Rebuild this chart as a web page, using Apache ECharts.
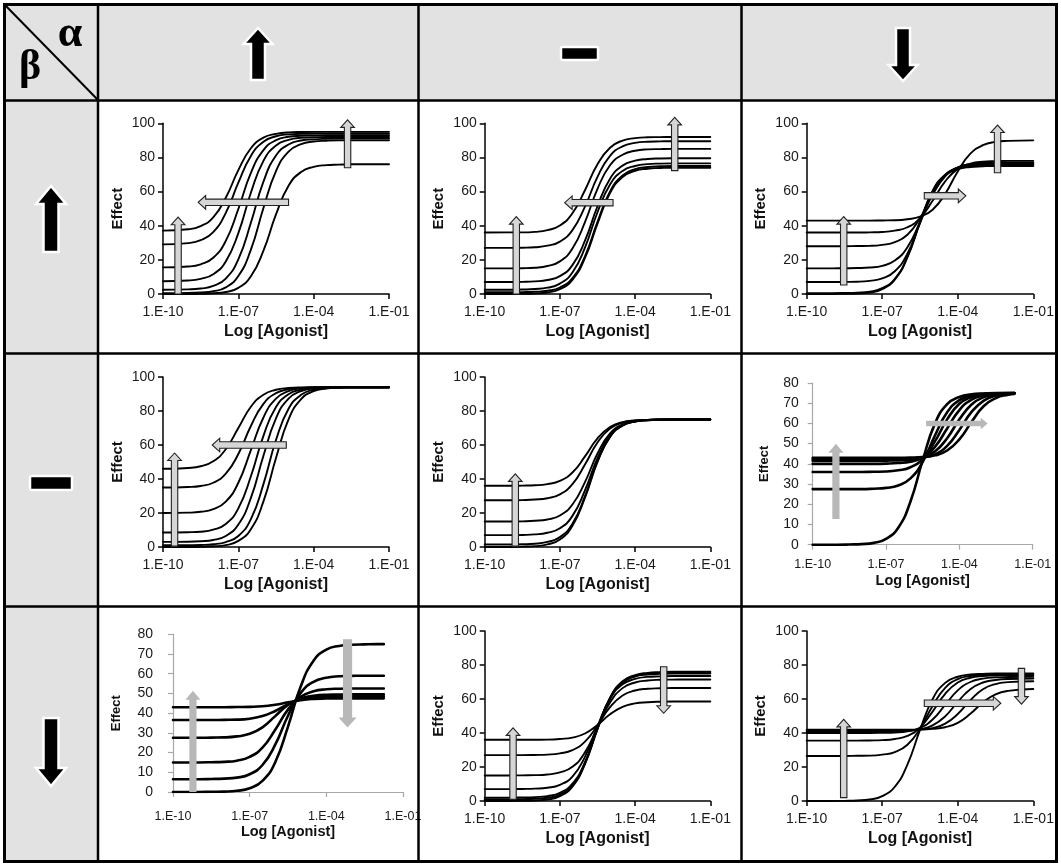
<!DOCTYPE html>
<html><head><meta charset="utf-8">
<script src="https://cdn.jsdelivr.net/npm/echarts@6/dist/echarts.min.js"></script>
<style>html,body{margin:0;padding:0;background:#fff}#c{width:1061px;height:865px}</style>
</head><body><div id="c"></div>
<script>
// ---- DATA (log10 agonist concentration vs effect) ----
const logAgonist = [-10,-9,-8.5,-8,-7.5,-7,-6.5,-6,-5.5,-5,-4.5,-4,-3.5,-3,-2.5,-2,-1];
const logAgonistShort = [-10,-9,-8.5,-8,-7.5,-7,-6.5,-6,-5.5,-5,-4.5,-4,-3.5,-3,-2.5,-2,-1.75];
const xTickValues = [-10,-7,-4,-1];
const xAxisTitle = 'Log [Agonist]';
const yAxisTitle = 'Effect';
const alphaLabel = 'α';
const betaLabel = 'β';

// row 1 (beta up)
const p11 = [
 [37.1,37.9,39.8,44.9,56.4,72.6,85.4,91.6,93.8,94.7,94.9,95,95,95,95,95,95],
 [29.1,29.8,31.5,36.3,47.5,65.2,80.9,89.2,92.4,93.5,93.8,94,94,94,94,94,94],
 [15.6,16.1,17.4,21.2,31.1,49.8,70.9,84.3,90.1,92.1,92.7,92.9,93,93,93,93,93],
 [7.5,7.9,8.9,11.6,19.1,35.7,59.3,78.0,87.0,90.3,91.5,91.8,92,92,92,92,92],
 [2.5,2.7,3.2,4.7,9.0,20.3,41.7,65.8,81.1,87.6,89.9,90.6,90.9,91,91,91,91],
 [0.5,0.6,0.9,1.6,3.9,10.5,26.0,50.4,72.0,83.4,87.8,89.3,89.8,90,90,90,90],
 [0,0,0.1,0.4,1.2,3.6,10.4,25.4,46.6,63.4,71.5,74.5,75.5,75.8,76,76,76]
];
const p12 = [
 [36,36.1,36.1,36.4,37.4,40.1,47.3,60.8,76.0,85.7,89.9,91.3,91.8,91.9,92,92,92],
 [27,27,27.1,27.4,28.3,30.7,37.4,51.2,68.6,80.9,86.5,88.5,89.2,89.4,89.5,89.5,89.5],
 [15,15,15.1,15.4,16.4,19.1,26.6,42.1,61.6,75.4,81.6,83.9,84.7,84.9,85,85,85],
 [7,7,7.1,7.4,8.2,10.5,16.9,31.2,51.4,67.5,75.2,78.1,79.1,79.4,79.5,79.5,79.5],
 [2.5,2.5,2.6,2.9,3.7,6.1,12.6,27.2,47.9,64.2,72.1,75.0,76.1,76.4,76.5,76.5,76.5],
 [1,1,1.1,1.3,1.9,3.8,9.3,22.1,42.2,60.1,69.5,73.2,74.4,74.8,75,75,75],
 [0,0,0.1,0.3,0.9,2.8,8.3,21.1,41.2,59.1,68.5,72.2,73.4,73.8,74,74,74]
];
const p13 = [
 [43,43,43,43,43,43.1,43.2,43.8,45.3,49.4,58.7,71.8,82.2,87.2,89.1,89.7,90],
 [36,36,36,36,36.1,36.3,37.1,39.1,44.4,54.6,66.0,73.3,76.4,77.5,77.8,78,78],
 [28,28,28,28.1,28.2,28.8,30.4,34.7,44.4,58.0,68.9,74.1,76.0,76.7,76.9,77,77],
 [15,15,15.1,15.2,15.5,16.5,19.6,27.4,42.2,59.0,69.6,74.2,75.8,76.3,76.4,76.5,76.5],
 [7,7,7.1,7.2,7.7,9.1,13.3,23.6,41.5,59.4,69.7,73.9,75.3,75.8,75.9,76,76],
 [0.5,0.5,0.6,0.8,1.4,3.4,8.9,21.9,42.3,60.4,69.9,73.6,74.9,75.3,75.5,75.5,75.5],
 [0,0,0.1,0.3,0.9,2.9,8.4,21.4,41.8,59.9,69.5,73.1,74.4,74.8,75,75,75]
];
// row 2 (beta neutral)
const p21 = [
 [46,46.5,47.5,50.4,57.5,70,82.5,89.6,92.5,93.5,93.9,94,94,94,94,94,94],
 [35,35.3,35.9,37.8,43.1,54.7,71.2,84.2,90.5,92.8,93.6,93.9,94,94,94,94,94],
 [20,20.2,20.7,22.3,26.7,37.8,57,76.2,87.3,91.7,93.3,93.8,93.9,94,94,94,94],
 [8.5,8.7,9.0,10.2,13.5,22.7,41.6,65.4,82.3,89.9,92.6,93.6,93.8,94,94,94,94],
 [3,3.1,3.4,4.1,6.5,13.2,28.9,53.7,75.7,87.3,91.7,93.3,93.7,94,94,94,94],
 [1,1.1,1.2,1.6,2.9,6.5,16.4,37.0,62.9,81.3,89.5,92.5,93.5,93.8,94,94,94],
 [0,0,0.1,0.4,1.1,3.6,10.5,26.8,52.4,75.1,87.0,91.7,93.2,93.7,94,94,94]
];
const p22 = [
 [36,36,36.1,36.3,37.0,38.9,43.8,53.3,63.9,70.6,73.5,74.5,74.8,75,75,75,75],
 [27.5,27.5,27.6,27.9,28.7,31.0,37.0,48.5,61.5,69.7,73.2,74.4,74.8,75,75,75,75],
 [15,15,15.1,15.4,16.2,18.5,25.0,38.2,55.0,66.8,72.1,74.0,74.7,74.9,75,75,75],
 [7,7,7.1,7.4,8.4,11.0,18.3,33.3,52.3,65.7,71.7,73.9,74.7,74.9,75,75,75],
 [1.5,1.5,1.6,1.9,3.0,5.8,13.7,29.9,50.5,64.9,71.5,73.8,74.6,74.9,75,75,75],
 [0,0,0.2,0.5,1.5,4.4,12.5,29.0,50.0,64.7,71.4,73.8,74.6,74.9,75,75,75]
];
const p23 = [
 [0,0,0.1,0.3,0.9,2.9,8.4,21.4,41.8,59.9,69.5,73.1,74.4,74.8,75,75,75],
 [27.5,27.5,27.5,27.5,27.7,28.1,29.3,32.8,41.0,54.0,65.5,71.5,73.8,74.6,74.9,75,75],
 [36,36,36,36,36.1,36.2,36.8,38.3,42.5,51.1,62.0,69.7,73.1,74.4,74.8,74.9,75],
 [40,40,40,40,40,40.1,40.4,41.1,43.2,48.4,57.5,66.6,71.8,73.9,74.7,74.9,74.9],
 [41.5,41.5,41.5,41.5,41.5,41.6,41.7,42.0,43.1,46.1,52.7,62.0,69.4,73.0,74.3,74.8,74.9],
 [42.3,42.3,42.3,42.3,42.3,42.3,42.4,42.6,43.1,44.7,48.9,56.8,65.7,71.3,73.8,74.6,74.8],
 [43,43,43,43,43,43,43,43.1,43.4,44.2,46.6,52.1,60.8,68.6,72.6,74.2,74.6]
];
// row 3 (beta down)
const p31 = [
 [43,43,43,43,43.1,43.2,43.5,44.3,45.5,46.6,47.2,47.4,47.5,47.5,47.5,47.5,47.5],
 [36.5,36.5,36.5,36.6,36.7,37.2,38.5,41.1,44.5,46.9,47.9,48.3,48.4,48.5,48.5,48.5,48.5],
 [27.5,27.5,27.6,27.7,28.2,29.5,32.8,38.5,44.2,47.5,48.8,49.3,49.4,49.5,49.5,49.5,49.5],
 [15,15,15.1,15.3,15.9,17.8,22.5,31.6,41.8,48.3,51.1,52.1,52.4,52.5,52.5,52.5,52.5],
 [6.5,6.5,6.6,6.8,7.3,9.0,13.7,24.0,38.7,50.3,55.9,58.0,58.7,58.9,59,59,59],
 [0,0,0.1,0.2,0.6,1.9,5.6,15.1,33.2,53.6,66.6,72.2,74.1,74.7,74.9,75,75]
];
const p32 = [
 [36,36,36,36,36.1,36.5,37.3,39.7,44.7,51.0,55.4,57.4,58.1,58.4,58.5,58.5,58.5],
 [27,27,27,27.1,27.3,28.0,29.9,34.9,44.5,55.2,62.1,65.0,66.0,66.3,66.5,66.5,66.5],
 [15,15,15.1,15.2,15.6,16.8,20.1,28.6,43.3,57.9,66.4,69.7,70.9,71.3,71.4,71.5,71.5],
 [7,7,7.1,7.3,7.8,9.5,14.4,26.0,44.0,60.1,68.6,71.8,73.0,73.3,73.5,73.5,73.5],
 [2,2,2.1,2.3,2.9,4.8,10.2,22.8,42.7,60.3,69.6,73.2,74.4,74.8,75,75,75],
 [1,1,1.1,1.3,1.9,3.8,9.3,22.2,42.5,60.5,70.0,73.6,74.9,75.3,75.5,75.5,75.5],
 [0,0,0.1,0.3,0.9,2.9,8.5,21.7,42.3,60.7,70.4,74.1,75.4,75.8,76,76,76]
];
const p33 = [
 [0,0,0.1,0.3,0.9,2.9,8.4,21.4,41.8,59.9,69.5,73.1,74.4,74.8,75,75,75],
 [26.5,26.5,26.5,26.6,26.7,27.3,28.8,33.1,42.5,55.9,66.5,71.7,73.5,74.2,74.4,74.5,74.5],
 [35.5,35.5,35.5,35.5,35.6,35.8,36.5,38.3,43.2,52.6,63.0,69.7,72.5,73.5,73.8,74,74],
 [40,40,40,40,40,40.1,40.3,41.0,43.0,47.9,56.5,65.1,70.0,72.0,72.7,72.9,73],
 [41,41,41,41,41,41,41.1,41.4,42.2,44.5,49.8,58.3,65.8,69.7,71.2,71.8,72],
 [41.5,41.5,41.5,41.5,41.5,41.5,41.5,41.6,42.0,42.9,45.5,51.2,59.3,65.7,68.8,69.9,70.4],
 [42,42,42,42,42,42,42,42,42.1,42.5,43.4,46.0,51.3,58.0,62.7,64.8,65.9]
];

// annotation arrows in data coordinates: [fromX, fromY, toX, toY]
const arrows11 = [[-9.4,0,-9.4,45],[-5.0,53.7,-8.6,53.7],[-2.65,74,-2.65,102]];
const arrows12 = [[-8.74,0,-8.74,45.3],[-4.88,53.5,-6.81,53.5],[-2.42,72.3,-2.42,103.5]];
const arrows13 = [[-8.53,5.3,-8.53,45.3],[-5.33,57.5,-3.68,57.5],[-2.42,71,-2.42,99]];
const arrows21 = [[-9.54,0.5,-9.54,55.3],[-5.09,60,-8.04,60]];
const arrows22 = [[-8.78,0.5,-8.78,43]];
const arrows23 = [[-9.05,12.7,-9.05,50],[-5.36,60,-2.84,60]];
const arrows31 = [[-9.22,0,-9.22,51.3],[-3.17,77.5,-3.17,32.7]];
const arrows32 = [[-8.87,1,-8.87,43],[-2.86,79,-2.86,51.6]];
const arrows33 = [[-8.53,2,-8.53,48],[-5.33,57.5,-2.29,57.5],[-1.47,78,-1.47,57]];

// ---- LAYOUT ----
const STD = {axis:'#000', font:'"Liberation Sans", Arial, sans-serif', lw:1.9};
const XL  = {axis:'#a8a8a8', font:'"Liberation Sans Narrow", "Liberation Sans", Arial, sans-serif', lw:2.6};
const panels = [
 {rect:[163,123.3,226,170.7], ymax:100, st:'std', x:logAgonist, c:p11, a:arrows11},
 {rect:[484.7,123.3,225.6,170.7], ymax:100, st:'std', x:logAgonist, c:p12, a:arrows12},
 {rect:[806.7,123.3,226.6,170.7], ymax:100, st:'std', x:logAgonist, c:p13, a:arrows13},
 {rect:[163,377,226,170], ymax:100, st:'std', x:logAgonist, c:p21, a:arrows21},
 {rect:[484.7,377,225.6,170], ymax:100, st:'std', x:logAgonist, c:p22, a:arrows22},
 {rect:[812.7,383,220,161.7], ymax:80, st:'xl', x:logAgonistShort, c:p23, a:arrows23,
   xm:13, ym:14, ng:29, yng:42},
 {rect:[173,634.3,230,157.7], ymax:80, st:'xl', x:logAgonistShort, c:p31, a:arrows31,
   xm:18, ym:20, ng:32, yng:50},
 {rect:[484.7,631,225.6,170], ymax:100, st:'std', x:logAgonist, c:p32, a:arrows32},
 {rect:[806.7,631,226.6,170], ymax:100, st:'std', x:logAgonist, c:p33, a:arrows33}
];

const fmtX = v => '1.E' + (v < 0 ? '-' : '+') + String(Math.abs(Math.round(v))).padStart(2,'0');

const grids=[], xAxes=[], yAxes=[], series=[];
panels.forEach((p,i)=>{
  const s = p.st==='std' ? STD : XL;
  const std = p.st==='std';
  grids.push({left:p.rect[0], top:p.rect[1], width:p.rect[2], height:p.rect[3], containLabel:false});
  xAxes.push({gridIndex:i, type:'value', min:-10, max:-1,
    axisLine:{show:true, lineStyle:{color:s.axis, width: std?1.5:1.2}},
    axisTick:{show:true, length:5, customValues:xTickValues, lineStyle:{color:s.axis, width: std?1.5:1.2}},
    axisLabel:{customValues:xTickValues, formatter:fmtX, fontSize: std?14:12.5, color:'#1a1a1a',
      fontFamily:s.font, margin: std?11:p.xm, showMinLabel:true, showMaxLabel:true},
    splitLine:{show:false},
    name:xAxisTitle, nameLocation:'middle', nameGap: std?30:p.ng,
    nameTextStyle:{fontWeight:'bold', fontSize: std?16:14.5, fontFamily:'"Liberation Sans", Arial, sans-serif', color:'#111'}
  });
  yAxes.push({gridIndex:i, type:'value', min:0, max:p.ymax, interval: std?20:10,
    axisLine:{show:true, lineStyle:{color:s.axis, width: std?1.5:1.2}},
    axisTick:{show:true, length:5, lineStyle:{color:s.axis, width: std?1.5:1.2}},
    axisLabel:{fontSize: 14, color:'#1a1a1a', fontFamily:'"Liberation Sans", Arial, sans-serif', margin: std?8:p.ym},
    splitLine:{show:false},
    name:yAxisTitle, nameLocation:'middle', nameGap: std?38:p.yng,
    nameTextStyle:{fontWeight:'bold', fontSize: std?15:13, fontFamily:'"Liberation Sans", Arial, sans-serif', color:'#111'}
  });
  p.c.forEach(ys=>{
    series.push({type:'line', xAxisIndex:i, yAxisIndex:i, smooth:0.5,
      symbol:'none', silent:true, animation:false,
      lineStyle:{color:'#000', width:s.lw, join:'round', cap:'round'},
      data: p.x.map((x,k)=>[x, ys[k]])});
  });
});

const chart = echarts.init(document.getElementById('c'), null, {renderer:'canvas'});
chart.setOption({backgroundColor:'#fff', animation:false, grid:grids, xAxis:xAxes, yAxis:yAxes, series:series});

// ---- table frame, headers and annotation arrows ----
function arrowPts(p0, p1, w, hw, hl){
  const dx=p1[0]-p0[0], dy=p1[1]-p0[1], L=Math.hypot(dx,dy);
  const ux=dx/L, uy=dy/L, nx=-uy, ny=ux;
  const nk=[p1[0]-ux*hl, p1[1]-uy*hl];
  return [[p0[0]+nx*w,p0[1]+ny*w],[nk[0]+nx*w,nk[1]+ny*w],[nk[0]+nx*hw,nk[1]+ny*hw],[p1[0],p1[1]],
          [nk[0]-nx*hw,nk[1]-ny*hw],[nk[0]-nx*w,nk[1]-ny*w],[p0[0]-nx*w,p0[1]-ny*w]];
}
const G = [];
const GRAY = '#e2e2e2';
G.push({type:'rect', z:0, shape:{x:5,y:5,width:1052,height:96}, style:{fill:GRAY}});
G.push({type:'rect', z:0, shape:{x:5,y:100,width:93,height:762}, style:{fill:GRAY}});
// header symbols
const hdr = {fill:'#000', stroke:'#fff', lineWidth:2.5};
G.push({type:'polygon', z:40, shape:{points:arrowPts([258,80],[258,28],7,14.5,16)}, style:hdr});
G.push({type:'rect', z:40, shape:{x:561,y:47,width:37,height:13,r:1.5}, style:hdr});
G.push({type:'polygon', z:40, shape:{points:arrowPts([903,28],[903,81],7,14.5,16)}, style:hdr});
G.push({type:'polygon', z:40, shape:{points:arrowPts([51,252],[51,186],7.5,15,18)}, style:hdr});
G.push({type:'rect', z:40, shape:{x:30,y:476,width:42,height:14,r:1.5}, style:hdr});
G.push({type:'polygon', z:40, shape:{points:arrowPts([51,718],[51,786],7.5,15,18)}, style:hdr});
// corner
G.push({type:'line', z:50, shape:{x1:5,y1:5,x2:98,y2:100}, style:{stroke:'#000', lineWidth:2}});
G.push({type:'text', z:50, style:{text:alphaLabel, x:70, y:35, font:'bold 44px "Liberation Serif", "DejaVu Serif", serif',
  align:'center', verticalAlign:'middle', textAlign:'center', textVerticalAlign:'middle', fill:'#000'}});
G.push({type:'text', z:50, style:{text:betaLabel, x:30, y:68, font:'bold 42px "Liberation Serif", "DejaVu Serif", serif',
  align:'center', verticalAlign:'middle', textAlign:'center', textVerticalAlign:'middle', fill:'#000'}});
// borders
const BL = {stroke:'#000', lineWidth:2.5};
[98,418.5,741.5].forEach(x=>G.push({type:'line', z:50, shape:{x1:x,y1:4.5,x2:x,y2:861.5}, style:BL}));
[100.5,353.5,606.5].forEach(y=>G.push({type:'line', z:50, shape:{x1:4.5,y1:y,x2:1056.5,y2:y}, style:BL}));
G.push({type:'rect', z:50, shape:{x:4.5,y:4.5,width:1052,height:857}, style:{fill:'none', stroke:'#000', lineWidth:3}});

// annotation arrows via axis scales
panels.forEach((p,i)=>{
  p.a.forEach(a=>{
    const p0 = chart.convertToPixel({gridIndex:i}, [a[0],a[1]]);
    const p1 = chart.convertToPixel({gridIndex:i}, [a[2],a[3]]);
    let w=3.2, hw=6.8, hl=7.5, style={fill:'#d6d6d6', stroke:'#222', lineWidth:1.1};
    if (p.st==='xl'){
      style={fill:'#b8b8b8'};
      const vertical = Math.abs(p1[0]-p0[0]) < 1;
      if (vertical){ const big = a[3]<a[1]; w= big?4.6:3.6; hw= big?9:7.5; hl= big?10:9; }
      else { w=2.8; hw=5.8; hl=7; }
    }
    G.push({type:'polygon', z:60, shape:{points:arrowPts(p0,p1,w,hw,hl)}, style:style});
  });
});
chart.setOption({graphic:{elements:G}});
</script></body></html>
